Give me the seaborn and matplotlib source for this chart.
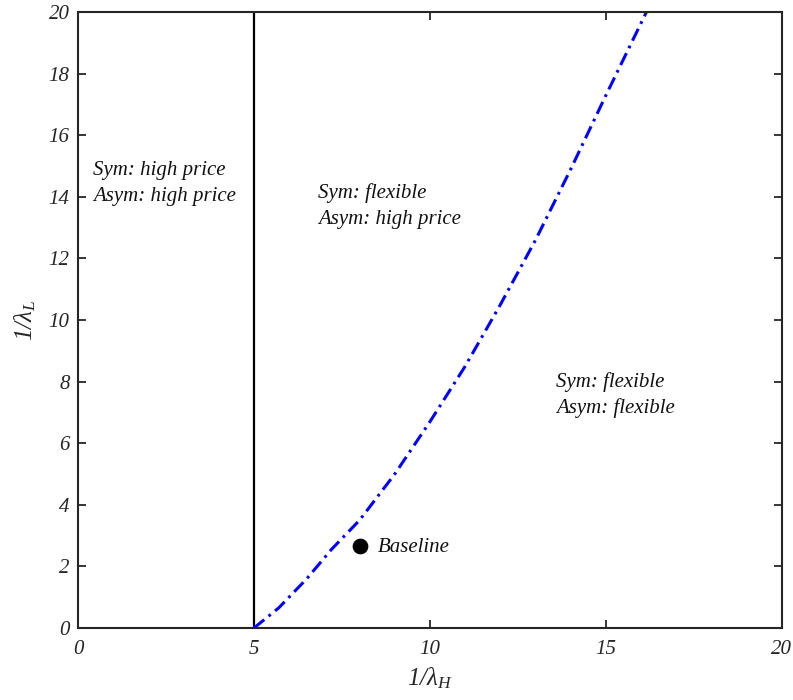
import numpy as np
import pandas as pd
import seaborn as sns
import matplotlib.pyplot as plt

# boundary curve
curve_x = [5.0, 5.7, 6.5, 7.2, 8.0, 9.0, 10.0, 11.0, 12.0, 13.0, 14.0, 15.0, 16.15]
curve_y = [0.0, 0.65, 1.6, 2.55, 3.5, 5.0, 6.7, 8.5, 10.5, 12.6, 14.9, 17.3, 20.0]
vline_x = [5.0, 5.0]
vline_y = [0.0, 20.0]
base_x = [8.0]
base_y = [2.66]
ticks_x = [0, 5, 10, 15, 20]
ticks_y = [0, 2, 4, 6, 8, 10, 12, 14, 16, 18, 20]

sns.set_style("ticks")
plt.rcParams['font.family'] = ['Liberation Serif', 'DejaVu Serif']
plt.rcParams['font.style'] = 'italic'
plt.rcParams['mathtext.fontset'] = 'custom'
plt.rcParams['mathtext.rm'] = 'Liberation Serif:italic'
plt.rcParams['mathtext.it'] = 'Liberation Serif:italic'
plt.rcParams['xtick.direction'] = 'in'
plt.rcParams['ytick.direction'] = 'in'
plt.rcParams['lines.scale_dashes'] = False

fig = plt.figure(figsize=(7.93, 7.0), dpi=100)
ax = fig.add_axes([0.0984, 0.1029, 0.8877, 0.8800])

df_curve = pd.DataFrame({'x': curve_x, 'y': curve_y})
df_v = pd.DataFrame({'x': vline_x, 'y': vline_y})
df_b = pd.DataFrame({'x': base_x, 'y': base_y})

sns.lineplot(data=df_v, x='x', y='y', sort=False, estimator=None, color='black', lw=1.6, ax=ax)
sns.lineplot(data=df_curve, x='x', y='y', sort=False, estimator=None, color='#0000ff', lw=2.2,
             ax=ax, linestyle=(0, (9.5, 4.0, 2.0, 4.0)))
sns.scatterplot(data=df_b, x='x', y='y', color='black', s=110, edgecolor='black', zorder=5, ax=ax)

txt = dict(fontsize=15, color='#111111', style='italic', linespacing=1.45)
ax.text(0.43, 14.43, "Sym: high price\nAsym: high price", va='center', ha='left', **txt)
ax.text(6.82, 13.7, "Sym: flexible\nAsym: high price", va='center', ha='left', **txt)
ax.text(13.58, 7.56, "Sym: flexible\nAsym: flexible", va='center', ha='left', **txt)
ax.text(8.52, 2.6, "Baseline", va='center', ha='left', **txt)

ax.set_xlim(0, 20)
ax.set_ylim(0, 20)
ax.set_xticks(ticks_x)
ax.set_yticks(ticks_y)
ax.tick_params(axis='both', which='both', top=True, right=True, length=6, width=1.3,
               labelsize=15, colors='#262626')
ax.tick_params(axis='x', pad=9)
ax.tick_params(axis='y', pad=6)
for lab in ax.get_xticklabels() + ax.get_yticklabels():
    lab.set_fontstyle('italic')
for s in ax.spines.values():
    s.set_linewidth(1.5)
    s.set_color('#262626')
    s.set_visible(True)

ax.set_xlabel(r'$1/\lambda_H$', fontsize=18, color='#262626', labelpad=4)
ax.set_ylabel(r'$1/\lambda_L$', fontsize=18, color='#262626', labelpad=8)

fig.savefig('out.png', dpi=100)
